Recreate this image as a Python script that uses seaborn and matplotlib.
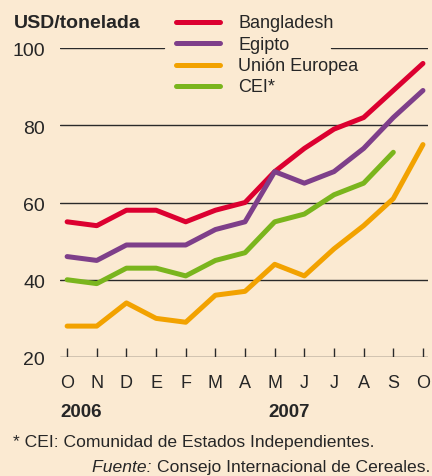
import numpy as np
import pandas as pd
import matplotlib

matplotlib.use("Agg")
import matplotlib.pyplot as plt
from matplotlib.lines import Line2D
import seaborn as sns

meses = ["O", "N", "D", "E", "F", "M", "A", "M", "J", "J", "A", "S", "O"]
bangladesh = [55, 54, 58, 58, 55, 58, 60, 68, 74, 79, 82, 89, 96]
egipto = [46, 45, 49, 49, 49, 53, 55, 68, 65, 68, 74, 82, 89]
union_europea = [28, 28, 34, 30, 29, 36, 37, 44, 41, 48, 54, 61, 75]
cei = [40, 39, 43, 43, 41, 45, 47, 55, 57, 62, 65, 73, np.nan]
series = ["Bangladesh", "Egipto", "Unión Europea", "CEI*"]
colores = ["#DC0030", "#7E3F8A", "#F2A200", "#7AB51D"]
yticks = [20, 40, 60, 80, 100]

BG = "#FBEAD2"
GRID = "#2a2a2a"
W, H = 432, 477

sns.set_theme(style="white")
plt.rcParams["font.family"] = ["Liberation Sans", "DejaVu Sans"]

rows = []
for nombre, vals in zip(series, [bangladesh, egipto, union_europea, cei]):
    for i, v in enumerate(vals):
        rows.append({"serie": nombre, "mes": i, "valor": v})
df = pd.DataFrame(rows).dropna()


def fx(px):
    return px / W


def fy(py):
    return 1 - py / H


fig = plt.figure(figsize=(W / 100, H / 100), dpi=100, facecolor=BG)
ax = fig.add_axes([fx(60), fy(358), fx(428) - fx(60), fy(49) - fy(358)])
ax.set_facecolor(BG)

# lineas horizontales; la de 100 se corta donde esta la leyenda
for y in yticks[:-1]:
    ax.axhline(y, color=GRID, lw=1.0, zorder=1)
ax.axhline(100, xmin=0, xmax=(164 - 60) / 368, color=GRID, lw=1.0, zorder=1)
ax.axhline(100, xmin=(331 - 60) / 368, xmax=1, color=GRID, lw=1.0, zorder=1)

sns.lineplot(data=df, x="mes", y="valor", hue="serie", hue_order=series,
             palette=colores, lw=3.6, ax=ax, legend=False, zorder=3)
for ln in ax.lines[-4:]:
    ln.set_clip_on(False)

ax.set_xlim(-0.24, 12.17)
ax.set_ylim(20, 100)
for s in ax.spines.values():
    s.set_visible(False)
ax.set_xticks([])
ax.set_yticks([])
ax.set_xlabel("")
ax.set_ylabel("")

# marcas de los meses sobre la linea de 20
ax.vlines(range(len(meses)), 20, 22.3, color=GRID, lw=1.0, zorder=2)

# leyenda a mano
for k, (nombre, c) in enumerate(zip(series, colores)):
    ry = 23 + k * 21.3
    fig.add_artist(Line2D([fx(176), fx(220)], [fy(ry), fy(ry)], color=c, lw=3.6,
                          solid_capstyle="round"))
    fig.text(fx(238), fy(ry + 5.5), nombre, fontsize=13, ha="left", va="baseline")

fig.text(fx(14), fy(28), "USD/tonelada", fontsize=14, fontweight="bold",
         ha="left", va="baseline")
for y in yticks:
    py = 358 - (y - 20) / 80 * (358 - 49)
    fig.text(fx(45), fy(py + 7.5), str(y), fontsize=14, ha="right", va="baseline")

for i, m in enumerate(meses):
    px = 67 + i * (423 - 67) / 12
    fig.text(fx(px), fy(388), m, fontsize=13, ha="center", va="baseline")

fig.text(fx(60), fy(417), "2006", fontsize=13.5, fontweight="bold", ha="left", va="baseline")
fig.text(fx(268), fy(417), "2007", fontsize=13.5, fontweight="bold", ha="left", va="baseline")

fig.text(fx(13), fy(447), "* CEI: Comunidad de Estados Independientes.", fontsize=12.6,
         ha="left", va="baseline")
src = fig.text(fx(430), fy(472.5), "Consejo Internacional de Cereales.", fontsize=12.6,
               ha="right", va="baseline")
r = fig.canvas.get_renderer()
bb = src.get_window_extent(renderer=r)
fig.text(bb.x0 / W, fy(472.5), "Fuente: ", fontsize=12.6, style="italic",
         ha="right", va="baseline")

fig.savefig("out.png", dpi=100, facecolor=BG)
